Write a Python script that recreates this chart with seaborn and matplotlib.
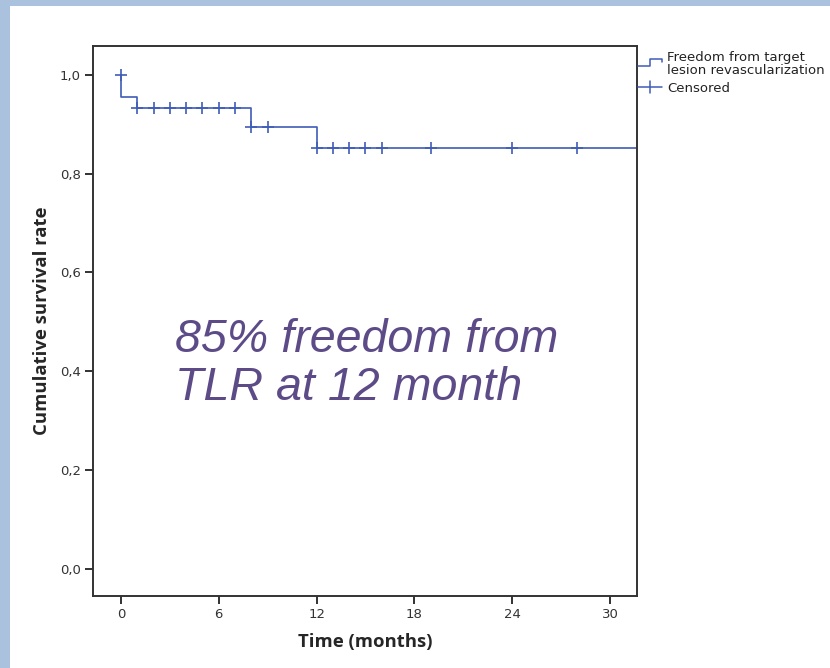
import matplotlib
matplotlib.use("Agg")
import matplotlib.pyplot as plt
from matplotlib.patches import Rectangle
import seaborn as sns
import pandas as pd

# ---- data ----
step_times = [0.0, 0.0, 1.0, 8.0, 12.0, 32.0]
step_surv = [1.0, 0.955, 0.933, 0.894, 0.852, 0.852]
cens_times = [0, 1, 2, 3, 4, 5, 6, 7, 8, 9, 12, 13, 14, 15, 16, 19, 24, 28]
cens_surv = [1.0] + [0.933] * 7 + [0.894] * 2 + [0.852] * 8
x_ticks = [0, 6, 12, 18, 24, 30]
y_ticks = [0.0, 0.2, 0.4, 0.6, 0.8, 1.0]
y_tick_labels = ["0,0", "0,2", "0,4", "0,6", "0,8", "1,0"]
legend_lines = ["Freedom from target", "lesion revascularization", "Censored"]
annotation = "85% freedom from\nTLR at 12 month"
x_label = "Time (months)"
y_label = "Cumulative survival rate"

line_color = "#3f5cb8"
text_color = "#5d4b88"

sns.set_theme(style="white")
plt.rcParams["font.family"] = ["DejaVu Sans"]

W, H = 830, 668
fig = plt.figure(figsize=(W / 100, H / 100), dpi=100)
fig.patch.set_facecolor("#aac2de")
fig.patches.append(Rectangle((10 / W, 0), 1 - 10 / W, 1 - 6 / H,
                             transform=fig.transFigure, facecolor="white",
                             edgecolor="none", zorder=0))

left, right, top, bottom = 93.3, 637, 46, 596
ax = fig.add_axes([left / W, 1 - bottom / H, (right - left) / W, (bottom - top) / H])
ax.set_zorder(2)
ax.set_facecolor("white")

df_step = pd.DataFrame({"t": step_times, "s": step_surv})
df_cens = pd.DataFrame({"t": cens_times, "s": cens_surv})

sns.lineplot(data=df_step, x="t", y="s", ax=ax, estimator=None, sort=False,
             drawstyle="steps-post", color=line_color, linewidth=1.2)
sns.scatterplot(data=df_cens, x="t", y="s", ax=ax, marker="+", s=80,
                color=line_color, linewidth=1.2, zorder=3)

ax.set_xlim(-1.70, 31.66)
ax.set_ylim(-0.0553, 1.0587)
ax.set_xticks(x_ticks)
ax.set_xticklabels([str(v) for v in x_ticks], fontsize=9.5, color="#333333")
ax.set_yticks(y_ticks)
ax.set_yticklabels(y_tick_labels, fontsize=9.5, color="#333333")
ax.tick_params(axis="both", which="major", direction="out", length=6, width=1.3,
               color="#222222", pad=3, bottom=True, left=True)
for sp in ax.spines.values():
    sp.set_color("#333333")
    sp.set_linewidth(1.4)
    sp.set_visible(True)

ax.set_xlabel(x_label, fontsize=13.3, fontweight="bold", family="Open Sans", labelpad=8)
ax.set_ylabel(y_label, fontsize=13.3, fontweight="bold", family="Open Sans", labelpad=6)

# baseline of the last line sits at y=400 px
ax.text((175 - left) / (right - left), 1 - (400 - top) / (bottom - top), annotation,
        transform=ax.transAxes, fontsize=33.6, style="italic", color=text_color,
        family="Liberation Sans", ha="left", va="baseline", linespacing=1.12)

# legend drawn outside on the right (figure pixel coordinates)
def fx(px):
    return px / W
def fy(py):
    return 1 - py / H

fig.add_artist(plt.Line2D([fx(638), fx(650), fx(650), fx(662), fx(662)],
                          [fy(66), fy(66), fy(59), fy(59), fy(62)],
                          color=line_color, linewidth=1.1, zorder=5))
fig.add_artist(plt.Line2D([fx(638), fx(662)], [fy(87), fy(87)],
                          color=line_color, linewidth=1.1, zorder=5))
fig.add_artist(plt.Line2D([fx(650), fx(650)], [fy(81), fy(93)],
                          color=line_color, linewidth=1.1, zorder=5))
for label, base in zip(legend_lines, [61, 74, 92]):
    fig.text(fx(667), fy(base), label, fontsize=9.5, color="#222222",
             ha="left", va="baseline", zorder=5)

fig.savefig("out.png", dpi=100)
